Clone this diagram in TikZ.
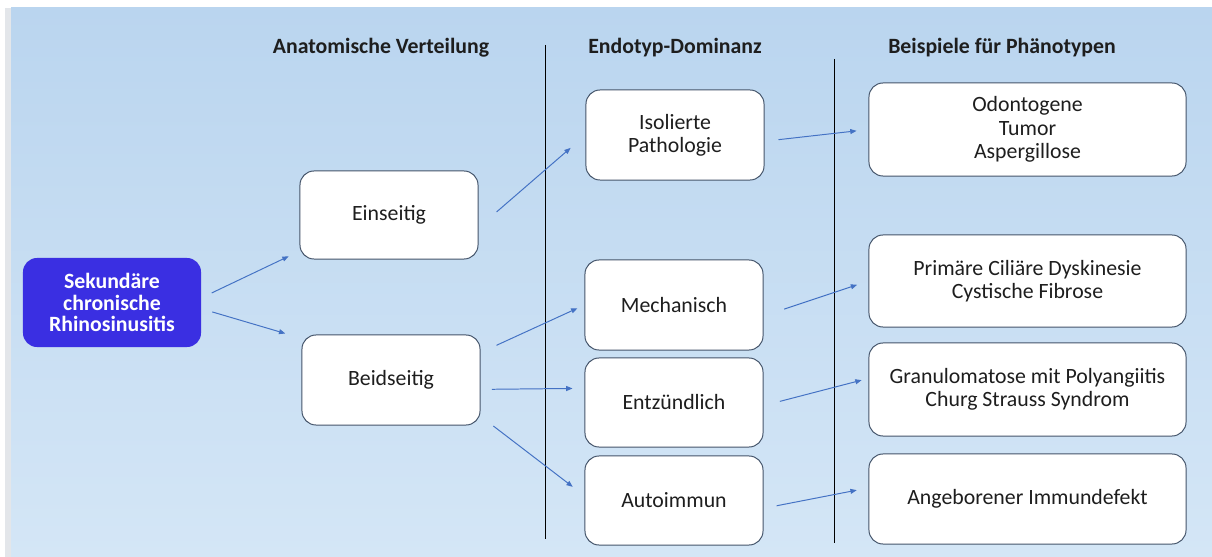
\documentclass[tikz,border=0pt]{standalone}
\usepackage{fontspec}
\setmainfont{Carlito}
\definecolor{rsText}{HTML}{1E1E1E}
\definecolor{rsSource}{HTML}{3A2FE2}
\definecolor{rsBorder}{HTML}{44546A}
\definecolor{rsArrow}{HTML}{4472C4}
\definecolor{rsBgTop}{HTML}{BAD5EF}
\definecolor{rsBgMid}{HTML}{B0CFEC}
\definecolor{rsBgBottom}{HTML}{D4E6F6}
\definecolor{rsEdge}{HTML}{E3E6EA}
\usepackage{tikz}
\usetikzlibrary{arrows.meta}

\begin{document}
\begin{tikzpicture}[x=0.025cm, y=-0.025cm,
  box/.style={rounded corners=10pt, draw=rsBorder, line width=0.7pt, fill=white, text=rsText,
    minimum width=4.45cm, minimum height=2.25cm, align=center, font=\fontsize{15.5}{16.5}\selectfont},
  widebox/.style={box, minimum width=7.925cm, minimum height=2.3cm},
  source/.style={box, draw=none, fill=rsSource, text=white, minimum height=2.225cm,
    font=\fontsize{15.5}{15}\selectfont\bfseries},
  head/.style={text=rsText, font=\fontsize{15.5}{16.5}\selectfont\bfseries},
  arr/.style={-{Triangle[length=4.5pt, width=3.5pt]}, line width=0.7pt, color=rsArrow,
    shorten <=10pt, shorten >=8.5pt},
  divider/.style={line width=0.6pt, color=black}
]
  % background
  \useasboundingbox (0,0) rectangle (1212,557);
  \fill[white] (0,0) rectangle (1212,557);
  \fill[rsEdge] (5,8) rectangle (11,557);
  \shade[top color=rsBgTop, middle color=rsBgMid, bottom color=rsBgBottom] (11,8) rectangle (1212,557);

  % column heads
  \node[head] (headAna) at (381,48) {Anatomische Verteilung};
  \node[head] (headEndo) at (675,48) {Endotyp-Dominanz};
  \node[head] (headPheno) at (1002,48) {Beispiele für Phänotypen};
  \draw[divider] (545,45) -- (545,539);
  \draw[divider] (834,59) -- (834,543);

  % boxes
  \node[source] (src) at (112,302.5) {Sekundäre\\chronische\\Rhinosinusitis};
  \node[box, minimum height=2.2cm] (ein) at (389,215) {Einseitig};
  \node[box] (bei) at (391,380) {Beidseitig};
  \node[box] (iso) at (675,135) {Isolierte\\Pathologie};
  \node[box] (mech) at (674,305) {Mechanisch};
  \node[box, minimum height=2.225cm] (ent) at (674,402.5) {Entzündlich};
  \node[box, minimum height=2.225cm] (auto) at (674,500.5) {Autoimmun};
  \node[widebox, minimum height=2.325cm] (odo) at (1027.5,129.5) {Odontogene\\Tumor\\Aspergillose};
  \node[widebox] (pri) at (1027.5,281) {Primäre Ciliäre Dyskinesie\\Cystische Fibrose};
  \node[widebox, minimum height=2.325cm] (gra) at (1027.5,389.5) {Granulomatose mit Polyangiitis\\Churg Strauss Syndrom};
  \node[widebox, minimum height=2.25cm] (ang) at (1027.5,499) {Angeborener Immundefekt};

  % arrows
  \draw[arr, shorten <=8pt] (src.3) -- (ein.202);
  \draw[arr, shorten <=8pt, shorten >=12pt] (src.-4) -- (bei.155);
  \draw[arr, shorten <=17pt, shorten >=14pt] (ein.-8) -- (iso.west);
  \draw[arr, shorten <=12.5pt, shorten >=5.5pt] (bei.17) -- (mech.west);
  \draw[arr, shorten <=8pt] (bei.-6) -- (ent.171);
  \draw[arr, shorten <=11.5pt, shorten >=10.5pt] (bei.-22) -- (auto.177);
  \draw[arr] (iso.-4) -- (odo.west);
  \draw[arr, shorten <=15.5pt] (mech.-7) -- (pri.west);
  \draw[arr, shorten <=12pt, shorten >=5pt] (ent.-2) -- (gra.176);
  \draw[arr, shorten <=9.5pt] (auto.-5) -- (ang.176);
\end{tikzpicture}
\end{document}
